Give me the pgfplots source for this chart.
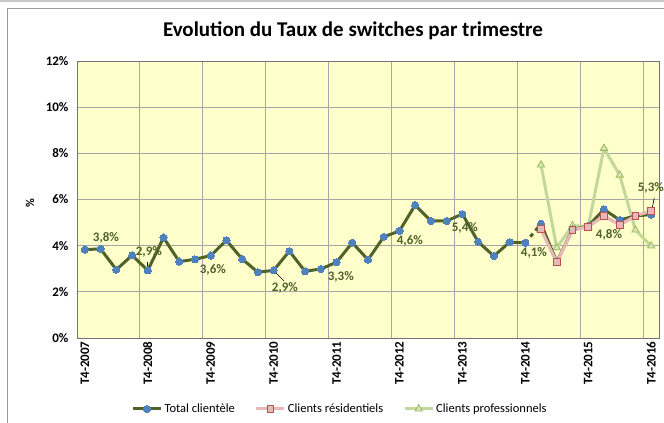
\documentclass[border=0pt]{standalone}
\usepackage{fontspec}
\setmainfont{Carlito}
\usepackage{pgfplots}
\pgfplotsset{compat=1.18}
\definecolor{totc}{HTML}{4F6228}
\definecolor{totm}{HTML}{4F81BD}
\definecolor{resl}{HTML}{E6B9B8}
\definecolor{resm}{HTML}{C0504D}
\definecolor{prol}{HTML}{C3D69B}
\definecolor{prom}{HTML}{9BBB59}
\definecolor{prof}{HTML}{D7E4BD}
\definecolor{bgy}{HTML}{FFFFCC}
\definecolor{gridc}{HTML}{A6A6A6}
\pgfplotstableread{
x y
0 3.83
1 3.86
2 2.96
3 3.58
4 2.93
5 4.35
6 3.31
7 3.41
8 3.57
9 4.23
10 3.42
11 2.85
12 2.93
13 3.76
14 2.89
15 2.99
16 3.28
17 4.13
18 3.39
19 4.38
20 4.64
21 5.76
22 5.07
23 5.07
24 5.37
25 4.17
26 3.55
27 4.15
28 4.12
}\totA
\pgfplotstableread{
x y
28 4.12
29 4.95
}\totB
\pgfplotstableread{
x y
29 4.95
30 3.30
31 4.70
32 4.85
33 5.57
34 5.11
35 5.29
36 5.35
}\totC
\pgfplotstableread{
x y
29 4.71
30 3.28
31 4.68
32 4.83
33 5.29
34 4.90
35 5.29
36 5.50
}\res
\pgfplotstableread{
x y
29 7.50
30 3.91
31 4.87
32 4.83
33 8.22
34 7.06
35 4.68
36 3.99
}\pro
\begin{document}
\begin{tikzpicture}[x=1pt,y=1pt]
\useasboundingbox (0,0) rectangle (664,423);
\fill[white] (0,0) rectangle (664,423);
\fill[black!22] (0,421) rectangle (664,423);
\draw[black!40, line width=0.8pt] (7,0) -- (7,415) -- (664,415);
\node[font=\bfseries\fontsize{21}{23}\selectfont] at (353,392) {Evolution du Taux de switches par trimestre};
\node[rotate=90, font=\bfseries\fontsize{12}{13}\selectfont] at (30,220) {\%};
\begin{axis}[
  at={(77pt,85pt)}, anchor=south west,
  width=582pt, height=277pt, scale only axis,
  xmin=-0.5, xmax=36.5, ymin=0, ymax=12,
  axis background/.style={fill=bgy},
  axis line style={draw=black!55, line width=0.8pt},
  ytick={0,2,4,6,8,10,12},
  yticklabels={0\%,2\%,4\%,6\%,8\%,10\%,12\%},
  y tick label style={font=\bfseries\fontsize{13}{13}\selectfont, xshift=-5pt},
  xtick={0,4,...,36},
  xticklabels={T4-2007,T4-2008,T4-2009,T4-2010,T4-2011,T4-2012,T4-2013,T4-2014,T4-2015,T4-2016},
  x tick label style={rotate=90, anchor=east, font=\bfseries\fontsize{13}{13}\selectfont, yshift=0pt},
  minor xtick={3.5,7.5,...,35.5},
  xminorgrids=true, ymajorgrids=true,
  major tick length=0pt, minor tick length=0pt,
  grid style={gridc, line width=0.9pt},
  minor grid style={gridc, line width=0.9pt},
  legend columns=3,
  legend style={at={(0.452,-0.256)}, anchor=center, draw=none, fill=none,
    font=\fontsize{12.5}{13}\selectfont,
    /tikz/every even column/.append style={column sep=18pt}},
  legend image code/.code={\draw[mark repeat=2,mark phase=2,#1] plot coordinates {(0pt,0pt) (14pt,0pt) (28pt,0pt)};},
  clip=false,
]
\addplot[totc, line width=3pt, mark=*, mark size=3.6pt, mark options={draw=totm, fill=totm, line width=0pt}] table {\totA};
\addlegendentry{Total clientèle}
\addplot[resl, line width=3pt, mark=square*, mark size=3.4pt, mark options={draw=resm, fill=resl, line width=0.8pt}] table {\res};
\addlegendentry{Clients résidentiels}
\addplot[prol, line width=3pt, mark=triangle*, mark size=4.2pt, mark options={draw=prom, fill=prof, line width=0.8pt}] table {\pro};
\addlegendentry{Clients professionnels}
\addplot[totc, line width=3pt, dash pattern=on 4pt off 4pt, forget plot] table {\totB};
\addplot[totc, line width=3pt, mark=*, mark size=3.6pt, mark options={draw=totm, fill=totm, line width=0pt}, forget plot] table {\totC};
\addplot[resl, line width=3pt, mark=square*, mark size=3.4pt, mark options={draw=resm, fill=resl, line width=0.8pt}, forget plot] table {\res};
\begin{scope}[every node/.style={font=\bfseries\fontsize{13}{13}\selectfont, text=totc}]
\node at (axis cs:1.34,4.33) {3,8\%};
\node at (axis cs:4.07,3.73) {2,9\%};
\node at (axis cs:8.14,2.95) {3,6\%};
\node at (axis cs:12.72,2.17) {2,9\%};
\node at (axis cs:16.27,2.64) {3,3\%};
\node at (axis cs:20.66,4.20) {4,6\%};
\node at (axis cs:24.16,4.77) {5,4\%};
\node at (axis cs:28.55,3.68) {4,1\%};
\node at (axis cs:33.32,4.46) {4,8\%};
\node at (axis cs:35.98,6.50) {5,3\%};
\end{scope}
\draw[black, line width=0.6pt] (axis cs:4.0,3.29) -- (axis cs:4.0,2.95);
\draw[black, line width=0.6pt] (axis cs:11.96,2.95) -- (axis cs:12.66,2.47);
\draw[black, line width=0.6pt] (axis cs:36.2,6.07) -- (axis cs:36.03,5.5);
\end{axis}
\end{tikzpicture}
\end{document}
